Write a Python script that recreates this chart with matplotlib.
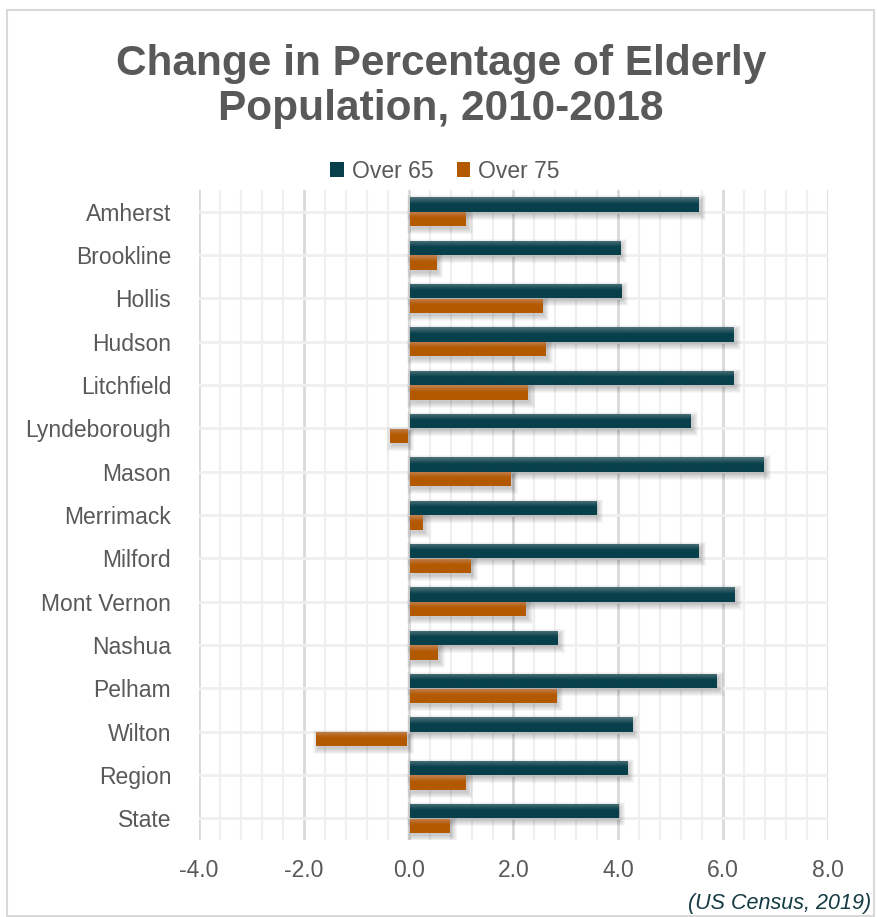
import numpy as np
import matplotlib
matplotlib.use("Agg")
import matplotlib.pyplot as plt
from matplotlib.patches import Rectangle, Patch
from matplotlib.colors import LinearSegmentedColormap

plt.rcParams['font.family'] = ['Liberation Sans', 'DejaVu Sans']

towns = ['Amherst', 'Brookline', 'Hollis', 'Hudson', 'Litchfield', 'Lyndeborough',
         'Mason', 'Merrimack', 'Milford', 'Mont Vernon', 'Nashua', 'Pelham',
         'Wilton', 'Region', 'State']
over_65 = [5.51, 4.01, 4.03, 6.17, 6.17, 5.36, 6.74, 3.55, 5.50, 6.19, 2.81, 5.85,
           4.24, 4.14, 3.97]
over_75 = [1.06, 0.50, 2.52, 2.59, 2.25, -0.33, 1.92, 0.24, 1.16, 2.20, 0.53, 2.79,
           -1.73, 1.06, 0.76]
x_ticks = [-4.0, -2.0, 0.0, 2.0, 4.0, 6.0, 8.0]

TEXT = '#595959'
TEAL = '#07404b'
RUST = '#b35900'
W, H = 878, 917

fig = plt.figure(figsize=(W / 100, H / 100), dpi=100)
# outer chart border
fig.add_artist(Rectangle((7 / W, 1 - 916 / H), 867 / W, 906 / H, transform=fig.transFigure,
                         fill=False, edgecolor='#d9d9d9', linewidth=1.5))

ax = fig.add_axes([199 / W, 1 - 840 / H, 629 / W, 650 / H])

# grid: faint minor lines every 0.4, darker major lines every 2
for xv in np.arange(-4, 8.01, 0.4):
    major = abs(xv / 2 - round(xv / 2)) < 1e-6
    ax.axvline(xv, color='#d9d9d9' if major else '#efefef', lw=2.0 if major else 1.6, zorder=0)
for i in range(len(towns)):
    ax.axhline(i, color='#efefef', lw=2.0, zorder=0)

bar_h = 0.33
px_x = 12 / 629   # one pixel in data units
px_y = 15 / 650


def gradient_bar(x0, width, y0, color, light):
    lo, hi = min(x0, x0 + width), max(x0, x0 + width)
    # blurred drop shadow, shifted down and to the right
    for grow in range(5, -1, -1):
        ax.add_patch(Rectangle((lo + (2 - grow) * px_x, y0 + (3 - grow) * px_y),
                               (hi - lo) + 2 * grow * px_x, bar_h + 2 * grow * px_y,
                               facecolor='black', edgecolor='none', alpha=0.035, zorder=1))
    rect = Rectangle((x0, y0), width, bar_h, facecolor=color, edgecolor='none', zorder=2)
    ax.add_patch(rect)
    cmap = LinearSegmentedColormap.from_list('g', [(0, light), (0.45, color), (1, color)])
    grad = np.linspace(0, 1, 64).reshape(-1, 1)
    im = ax.imshow(grad, cmap=cmap, aspect='auto', extent=(lo, hi, y0 + bar_h, y0),
                   zorder=3, interpolation='bilinear')
    im.set_clip_path(rect)


for i, (a, b) in enumerate(zip(over_65, over_75)):
    gradient_bar(0.03 if a > 0 else -0.03, a, i - bar_h, TEAL, '#52747a')
    gradient_bar(0.03 if b > 0 else -0.03, b, i + 0.01, RUST, '#c38253')

ax.set_xlim(-4, 8)
ax.set_ylim(len(towns) - 0.5, -0.5)
ax.set_xticks(x_ticks)
ax.set_xticklabels([f'{v:.1f}' for v in x_ticks], fontsize=16.5, color=TEXT)
ax.set_yticks(range(len(towns)))
ax.set_yticklabels(towns, fontsize=16.5, color=TEXT)
ax.tick_params(length=0, pad=14)
ax.tick_params(axis='y', pad=20)
for s in ax.spines.values():
    s.set_visible(False)

fig.text(441 / W, 1 - 64 / H, 'Change in Percentage of Elderly', ha='center', va='center',
         fontsize=30.5, fontweight='bold', color=TEXT)
fig.text(441 / W, 1 - 109 / H, 'Population, 2010-2018', ha='center', va='center',
         fontsize=30.5, fontweight='bold', color=TEXT)

handles = [Patch(facecolor=TEAL, label='Over 65'), Patch(facecolor=RUST, label='Over 75')]
fig.legend(handles=handles, loc='center', bbox_to_anchor=(445 / W, 1 - 171 / H), ncol=2,
           frameon=False, fontsize=16.5, labelcolor=TEXT, handlelength=0.6, handleheight=0.6,
           handletextpad=0.35, columnspacing=1.0)

fig.text(871 / W, 1 - 904 / H, '(US Census, 2019)', ha='right', va='center', fontsize=15.5,
         style='italic', color='#143a42')

fig.savefig('out.png', dpi=100, facecolor='white')
